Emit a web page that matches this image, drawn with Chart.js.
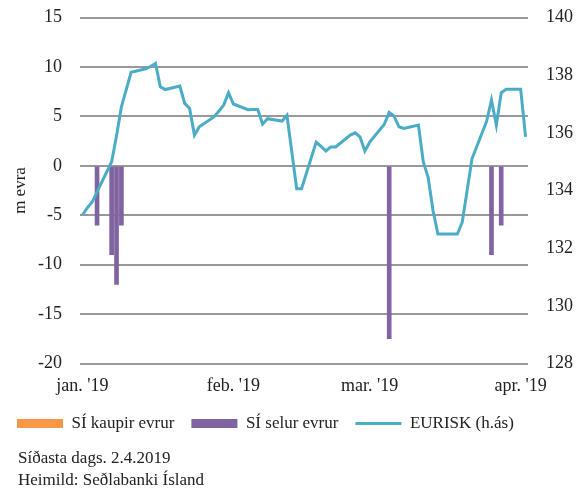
<!DOCTYPE html>
<html>
<head>
<meta charset="utf-8">
<script src="https://cdn.jsdelivr.net/npm/chart.js@4"></script>
<style>
  html, body { margin: 0; padding: 0; background: #fff; }
  #wrap { position: relative; width: 586px; height: 490px; }
  #footer {
    position: absolute; left: 18px; top: 447px;
    font: 17px "Liberation Serif", serif; line-height: 22px; color: #222;
  }
</style>
</head>
<body>
<div id="wrap">
  <canvas id="chart" width="586" height="490"></canvas>
  <div id="footer">Síðasta dags. 2.4.2019<br>Heimild: Seðlabanki Ísland</div>
</div>
<script>
// x axis: every calendar day from 1 Jan to 2 Apr 2019
const monthLabels = ["jan. '19", "feb. '19", "mar. '19", "apr. '19"];
const monthDays = [31, 28, 31, 2];

// EURISK (right axis), trading days only
const rateDates = [
  '01-01', '01-02', '01-03', '01-04', '01-07', '01-08', '01-09', '01-10', '01-11',
  '01-14', '01-15', '01-16', '01-17', '01-18', '01-21', '01-22', '01-23', '01-24', '01-25',
  '01-28', '01-29', '01-30', '01-31', '02-01', '02-04', '02-05', '02-06', '02-07', '02-08',
  '02-11', '02-12', '02-13', '02-14', '02-15', '02-18', '02-19', '02-20', '02-21', '02-22',
  '02-25', '02-26', '02-27', '02-28', '03-01', '03-04', '03-05', '03-06', '03-07', '03-08',
  '03-11', '03-12', '03-13', '03-14', '03-15', '03-18', '03-19', '03-20', '03-21', '03-22',
  '03-25', '03-26', '03-27', '03-28', '03-29', '04-01', '04-02'
];
const rateValues = [
  133.15, 133.4, 133.6, 133.95, 135.0, 135.9, 136.9, 137.5, 138.1,
  138.22, 138.3, 138.41, 137.6, 137.5, 137.62, 137.02, 136.85, 135.92, 136.21,
  136.55, 136.75, 136.96, 137.39, 137.0, 136.8, 136.81, 136.81, 136.3, 136.49,
  136.41, 136.61, 135.33, 134.06, 134.06, 135.68, 135.53, 135.37, 135.51, 135.51,
  135.92, 136.0, 135.86, 135.37, 135.68, 136.3, 136.71, 136.58, 136.21, 136.15,
  136.27, 134.99, 134.45, 133.3, 132.49, 132.49, 132.49, 132.9, 134.0, 135.1,
  136.4, 137.14, 136.27, 137.39, 137.51, 137.51, 135.86
];

// interventions, m evra (left axis)
const buyDates = [];
const buyValues = [];
const sellDates = ['01-04', '01-07', '01-08', '01-09', '03-05', '03-26', '03-28'];
const sellValues = [-6, -9, -12, -6, -17.5, -9, -6];

const days = [];
const tickText = [];
monthDays.forEach((n, m) => {
  for (let d = 1; d <= n; d++) {
    days.push(String(m + 1).padStart(2, '0') + '-' + String(d).padStart(2, '0'));
    tickText.push(d === 1 ? monthLabels[m] : '');
  }
});

function onDays(dates, values) {
  return days.map((day) => {
    let k = dates.indexOf(day);
    return k < 0 ? null : values[k];
  });
}

// y axes: fixed widths, no extra room above/below for tick labels
function fitY(width) {
  return (s) => {
    s.width = width;
    s.paddingTop = 0;
    s.paddingBottom = 0;
  };
}

const serif = '"Liberation Serif", serif';
Chart.defaults.font.family = serif;
Chart.defaults.font.size = 18;
Chart.defaults.color = '#222';

new Chart(document.getElementById('chart'), {
  type: 'bar',
  data: {
    labels: days,
    datasets: [
      {
        label: 'SÍ kaupir evrur',
        data: onDays(buyDates, buyValues),
        backgroundColor: '#F79646',
        yAxisID: 'y',
        grouped: false,
        barThickness: 4,
        pointStyle: 'rect',
        order: 1
      },
      {
        label: 'SÍ selur evrur',
        data: onDays(sellDates, sellValues),
        backgroundColor: '#8064A2',
        yAxisID: 'y',
        grouped: false,
        barThickness: 4,
        pointStyle: 'rect',
        order: 1
      },
      {
        type: 'line',
        label: 'EURISK (h.ás)',
        data: onDays(rateDates, rateValues),
        yAxisID: 'y1',
        borderColor: '#4BACC6',
        backgroundColor: '#4BACC6',
        borderWidth: 3,
        pointRadius: 0,
        spanGaps: true,
        tension: 0,
        pointStyle: 'line',
        order: 0
      }
    ]
  },
  options: {
    responsive: false,
    animation: false,
    layout: { padding: { top: 17.5, bottom: 48 } },
    plugins: {
      tooltip: { enabled: false },
      legend: {
        position: 'bottom',
        align: 'start',
        labels: {
          usePointStyle: true,
          pointStyleWidth: 46,
          boxHeight: 9,
          padding: 17,
          font: { size: 17 },
          sort: (a, b) => a.datasetIndex - b.datasetIndex
        }
      }
    },
    scales: {
      x: {
        offset: true,
        grid: { display: false, drawTicks: false },
        border: { display: false },
        ticks: {
          autoSkip: false,
          maxRotation: 0,
          padding: 12,
          callback: (v, i) => tickText[i]
        },
        afterFit: (s) => { s.height = 34.5; }
      },
      y: {
        position: 'left',
        min: -20,
        max: 15,
        ticks: { stepSize: 5, padding: 18 },
        grid: { color: '#999', lineWidth: 2, drawTicks: false },
        border: { display: false },
        title: { display: true, text: 'm evra', font: { size: 17 }, padding: { top: 10, bottom: 0 } },
        afterFit: fitY(80)
      },
      y1: {
        position: 'right',
        min: 128,
        max: 140,
        ticks: { stepSize: 2, padding: 18 },
        grid: { display: false, drawTicks: false },
        border: { display: false },
        afterFit: fitY(58)
      }
    }
  }
});
</script>
</body>
</html>
